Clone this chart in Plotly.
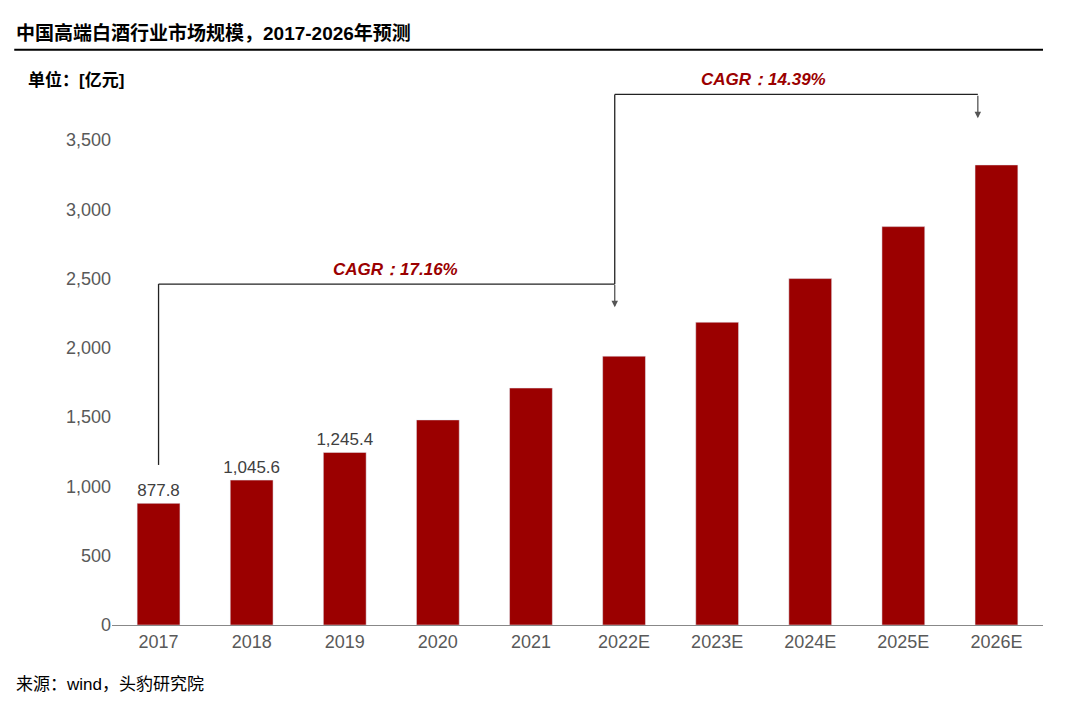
import plotly.graph_objects as go

years = ["2017", "2018", "2019", "2020", "2021", "2022E", "2023E", "2024E", "2025E", "2026E"]
values = [877.8, 1045.6, 1245.4, 1480, 1710, 1940, 2185, 2500, 2875, 3320]
labels = ["877.8", "1,045.6", "1,245.4", "", "", "", "", "", "", ""]
cagr_labels = ["CAGR：17.16%", "CAGR：14.39%"]

red = "#9b0000"
fig = go.Figure()
fig.add_trace(go.Bar(
    x=list(range(len(years))), y=values, marker_color=red, width=0.46,
    text=labels, textposition="outside", textfont=dict(size=17, color="#404040"),
    cliponaxis=False,
))

line = dict(color="#222222", width=1.3)
# brackets in paper coords (x: category centre = (i+0.5)/10)
fig.add_shape(type="line", xref="paper", yref="paper", x0=0.05, x1=0.05, y0=0.33, y1=0.703, line=line)
fig.add_shape(type="line", xref="paper", yref="paper", x0=0.05, x1=0.54, y0=0.703, y1=0.703, line=line)
fig.add_shape(type="line", xref="paper", yref="paper", x0=0.54, x1=0.54, y0=0.703, y1=1.094, line=line)
fig.add_shape(type="line", xref="paper", yref="paper", x0=0.54, x1=0.93, y0=1.094, y1=1.094, line=line)
fig.add_annotation(x=0.93, y=1.045, ax=0, ay=-24, xref="paper", yref="paper",
                   showarrow=True, arrowhead=2, arrowsize=1, arrowwidth=1.3, arrowcolor="#555555", text="")
fig.add_annotation(x=0.54, y=0.655, ax=0, ay=-24, xref="paper", yref="paper",
                   showarrow=True, arrowhead=2, arrowsize=1, arrowwidth=1.3, arrowcolor="#555555", text="")
fig.add_annotation(xref="paper", yref="paper", x=0.304, y=0.703, xanchor="center", yanchor="bottom", yshift=3,
                   text="<b><i>" + cagr_labels[0] + "</i></b>", showarrow=False,
                   font=dict(size=17, color=red, family="Liberation Sans"))
fig.add_annotation(xref="paper", yref="paper", x=0.70, y=1.094, xanchor="center", yanchor="bottom", yshift=3,
                   text="<b><i>" + cagr_labels[1] + "</i></b>", showarrow=False,
                   font=dict(size=17, color=red, family="Liberation Sans"))

fig.add_annotation(xref="paper", yref="paper", x=-0.105, y=1.247, xanchor="left", yanchor="top",
                   text="<b>中国高端白酒行业市场规模，2017-2026年预测</b>", showarrow=False,
                   font=dict(size=19, color="black"))
fig.add_shape(type="line", xref="paper", yref="paper", x0=-0.105, x1=1.0, y0=1.186, y1=1.186,
              line=dict(color="black", width=2))
fig.add_annotation(xref="paper", yref="paper", x=-0.092, y=1.124, xanchor="left", yanchor="middle",
                   text="<b>单位：[亿元]</b>", showarrow=False, font=dict(size=17, color="black"))
fig.add_annotation(xref="paper", yref="paper", x=-0.105, y=-0.122, xanchor="left", yanchor="middle",
                   text="来源：wind，头豹研究院", showarrow=False, font=dict(size=17, color="black"))

fig.update_layout(
    width=1069, height=703, plot_bgcolor="white", paper_bgcolor="white",
    margin=dict(l=104, r=34, t=132, b=86), showlegend=False,
    uniformtext=dict(minsize=17, mode="show"),
    font=dict(family="Liberation Sans, Noto Sans CJK SC", size=17, color="#595959"),
    xaxis=dict(tickmode="array", tickvals=list(range(len(years))), ticktext=years,
               range=[-0.5, len(years) - 0.5], showline=True, linecolor="#888888",
               ticks="", tickfont=dict(size=18, color="#595959")),
    yaxis=dict(range=[0, 3500], dtick=500, tickformat=",", showgrid=False,
               zeroline=False, tickfont=dict(size=18, color="#595959")),
)
fig.write_html("out.html")
